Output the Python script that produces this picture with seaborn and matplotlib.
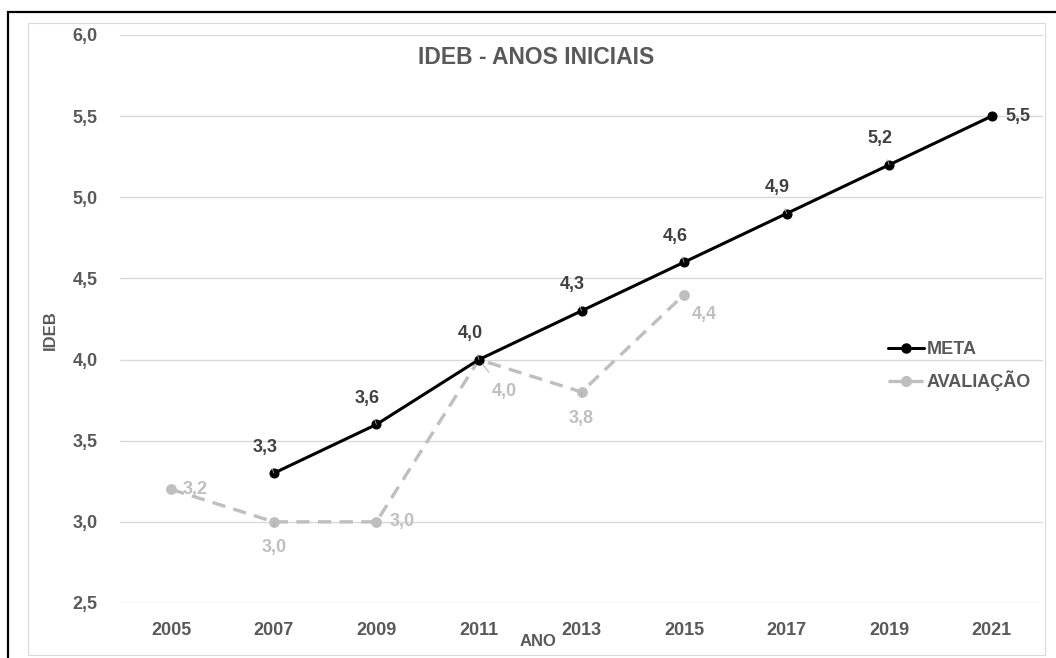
import matplotlib
matplotlib.use("Agg")
import matplotlib.pyplot as plt
import seaborn as sns
import pandas as pd
from matplotlib.patches import Rectangle
from matplotlib.lines import Line2D

anos = ["2005", "2007", "2009", "2011", "2013", "2015", "2017", "2019", "2021"]
meta_anos = ["2007", "2009", "2011", "2013", "2015", "2017", "2019", "2021"]
meta = [3.3, 3.6, 4.0, 4.3, 4.6, 4.9, 5.2, 5.5]
aval_anos = ["2005", "2007", "2009", "2011", "2013", "2015"]
aval = [3.2, 3.0, 3.0, 4.0, 3.8, 4.4]
yticks = [2.5, 3.0, 3.5, 4.0, 4.5, 5.0, 5.5, 6.0]

sns.set_theme(style="white")
plt.rcParams['font.family'] = ['Liberation Sans', 'DejaVu Sans']

TXT = '#595959'
GRAY = '#bfbfbf'
FS = 13

pos = {a: i for i, a in enumerate(anos)}
df_meta = pd.DataFrame({'x': [pos[a] for a in meta_anos], 'y': meta})
df_aval = pd.DataFrame({'x': [pos[a] for a in aval_anos], 'y': aval})

fig = plt.figure(figsize=(10.56, 6.58), dpi=100)
ax = fig.add_axes([120 / 1056, 1 - 603 / 658, 923 / 1056, 568 / 658])

# frames: outer black, inner light gray chart area
fig.patches.append(Rectangle((8 / 1056, -0.05), 1.2, 1 - 12 / 658 + 0.05, transform=fig.transFigure,
                             fill=False, edgecolor='black', linewidth=1.6))
fig.patches.append(Rectangle((28 / 1056, 3 / 658), 1017 / 1056, 1 - 26 / 658, transform=fig.transFigure,
                             fill=False, edgecolor='#d9d9d9', linewidth=0.8))

sns.lineplot(data=df_aval, x='x', y='y', ax=ax, color=GRAY, linewidth=2.4,
             marker='o', markersize=7, markeredgecolor=GRAY, dashes=False,
             linestyle=(0, (4, 2.5)), label='AVALIAÇÃO')
sns.lineplot(data=df_meta, x='x', y='y', ax=ax, color='black', linewidth=2.2,
             marker='o', markersize=6.5, markeredgecolor='black', label='META')

ax.set_xlim(-0.5, 8.5)
ax.set_ylim(2.5, 6.0)
ax.set_xticks(range(len(anos)))
ax.set_xticklabels(anos)
ax.set_yticks(yticks)
ax.set_yticklabels([f"{v:.1f}".replace('.', ',') for v in yticks])
ax.tick_params(axis='both', length=0, labelsize=FS, labelcolor=TXT)
ax.tick_params(axis='y', pad=16)
ax.tick_params(axis='x', pad=14)
for lab in ax.get_xticklabels() + ax.get_yticklabels():
    lab.set_fontweight('bold')
ax.grid(axis='y', color='#d9d9d9', linewidth=1)
ax.grid(axis='x', visible=False)
for s in ax.spines.values():
    s.set_visible(False)
ax.set_axisbelow(True)

ax.set_xlabel('')
ax.set_ylabel('')
fig.text(538 / 1056, 1 - 642 / 658, 'ANO', ha='center', va='center',
         fontsize=12, fontweight='bold', color=TXT)
fig.text(50 / 1056, 1 - 330 / 658, 'IDEB', ha='center', va='center', rotation=90,
         fontsize=12, fontweight='bold', color=TXT)
fig.text(536 / 1056, 1 - 58 / 658, 'IDEB - ANOS INICIAIS', ha='center', va='center',
         fontsize=16.5, fontweight='bold', color=TXT)

lead = dict(arrowstyle='-', color='#a6a6a6', lw=0.6, shrinkA=7, shrinkB=4)

# META labels: above-left with leader lines, last one to the right
for a, v in zip(meta_anos, meta):
    txt = f"{v:.1f}".replace('.', ',')
    if a == '2021':
        ax.annotate(txt, (pos[a], v), xytext=(26, 0), textcoords='offset pixels',
                    ha='center', va='center', fontsize=FS, fontweight='bold', color='#404040')
    else:
        ax.annotate(txt, (pos[a], v), xytext=(-9, 26), textcoords='offset pixels',
                    ha='center', va='center', fontsize=FS, fontweight='bold', color='#404040',
                    arrowprops=lead)

aval_off = {'2005': (24, 0), '2007': (0, -26), '2009': (26, 0),
            '2011': (25, -32), '2013': (0, -26), '2015': (20, -20)}
aval_lead = {'2007', '2011', '2013'}
for a, v in zip(aval_anos, aval):
    txt = f"{v:.1f}".replace('.', ',')
    ax.annotate(txt, (pos[a], v), xytext=aval_off[a], textcoords='offset pixels',
                ha='center', va='center', fontsize=FS, fontweight='bold', color=GRAY,
                arrowprops=lead if a in aval_lead else None)

handles = [Line2D([], [], color='black', linewidth=2.2, marker='o', markersize=6.5),
           Line2D([], [], color=GRAY, linewidth=2.4, linestyle=(0, (4, 2.5)), marker='o',
                  markersize=7)]
ax.legend(handles, ['META', 'AVALIAÇÃO'], loc='upper left', bbox_to_anchor=(0.814, 0.49),
          frameon=False, handlelength=2.0, handletextpad=0.15, labelspacing=0.7,
          prop={'weight': 'bold', 'size': FS}, labelcolor=TXT)

fig.savefig('out.png', dpi=100)
